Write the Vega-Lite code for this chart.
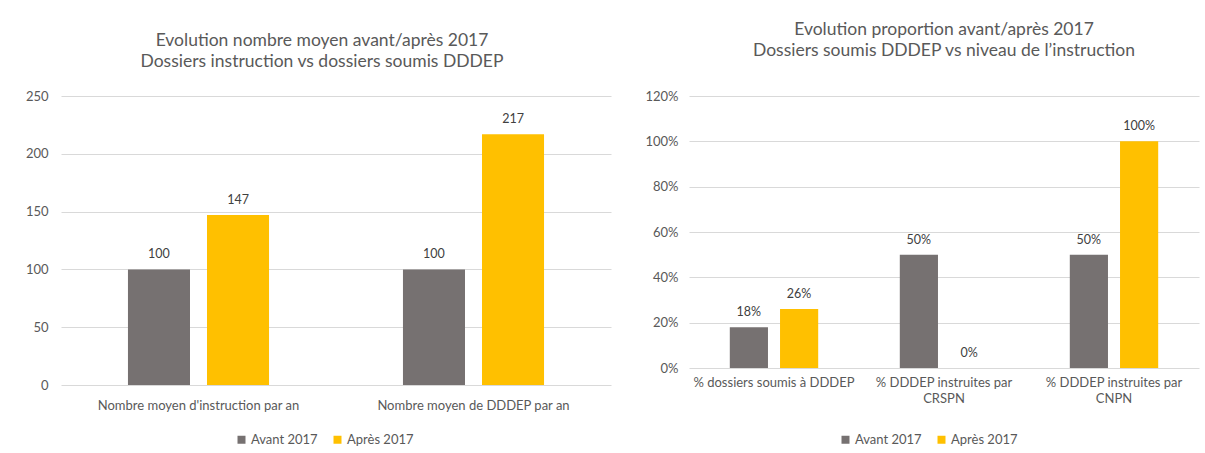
{
  "$schema": "https://vega.github.io/schema/vega-lite/v6.json",
  "background": "white",
  "padding": {"left": 25, "top": 20, "right": 2, "bottom": 5},
  "bounds": "flush",
  "spacing": 78,
  "config": {
    "font": "Lato",
    "view": {"stroke": null},
    "axis": {"labelColor": "#595959", "labelFontSize": 13, "titleColor": "#595959", "domain": false, "ticks": false, "labelLimit": 400},
    "legend": {"labelColor": "#595959", "labelFontSize": 13, "symbolType": "square", "symbolSize": 64, "symbolStrokeWidth": 0, "title": null, "orient": "none", "direction": "horizontal", "columnPadding": 13, "labelOffset": 3},
    "title": {"color": "#595959", "fontSize": 17.5, "fontWeight": "normal", "lineHeight": 21}
  },
  "resolve": {"scale": {"color": "independent", "xOffset": "independent", "x": "independent", "y": "independent"}, "legend": {"color": "independent"}},
  "hconcat": [
    {
      "width": 550,
      "height": 289,
      "title": {"text": ["Evolution nombre moyen avant/après 2017", "Dossiers instruction vs dossiers soumis DDDEP"], "offset": 20, "dx": -14},
      "data": {"values": [
        {"cat": "Nombre moyen d'instruction par an", "periode": "Avant 2017", "valeur": 100},
        {"cat": "Nombre moyen d'instruction par an", "periode": "Après 2017", "valeur": 147},
        {"cat": "Nombre moyen de DDDEP par an", "periode": "Avant 2017", "valeur": 100},
        {"cat": "Nombre moyen de DDDEP par an", "periode": "Après 2017", "valeur": 217}
      ]},
      "encoding": {
        "x": {"field": "cat", "type": "nominal", "sort": null, "title": null, "scale": {"paddingInner": 0.487, "paddingOuter": 0.2435}, "axis": {"labelAngle": 0, "labelPadding": 14, "grid": false}},
        "xOffset": {"field": "periode", "type": "nominal", "sort": ["Avant 2017", "Après 2017"], "scale": {"paddingInner": 0.215}},
        "y": {"field": "valeur", "type": "quantitative", "title": null, "scale": {"domain": [0, 250]}, "axis": {"values": [0, 50, 100, 150, 200, 250], "gridColor": "#d9d9d9", "labelPadding": 13}}
      },
      "layer": [
        {
          "mark": {"type": "bar"},
          "encoding": {
            "color": {"field": "periode", "type": "nominal", "sort": ["Avant 2017", "Après 2017"], "scale": {"domain": ["Avant 2017", "Après 2017"], "range": ["#767171", "#FFC000"]}, "legend": {"legendX": 174, "legendY": 337}}
          }
        },
        {
          "mark": {"type": "text", "dy": -15, "color": "#404040", "fontSize": 12.5},
          "encoding": {"text": {"field": "valeur", "type": "quantitative"}}
        }
      ]
    },
    {
      "width": 510,
      "height": 272,
      "title": {"text": ["Evolution proportion avant/après 2017", "Dossiers soumis DDDEP vs niveau de l’instruction"], "offset": 31},
      "data": {"values": [
        {"cat": "% dossiers soumis à DDDEP", "periode": "Avant 2017", "valeur": 0.18},
        {"cat": "% dossiers soumis à DDDEP", "periode": "Après 2017", "valeur": 0.26},
        {"cat": "% DDDEP instruites par|CRSPN", "periode": "Avant 2017", "valeur": 0.5},
        {"cat": "% DDDEP instruites par|CRSPN", "periode": "Après 2017", "valeur": 0},
        {"cat": "% DDDEP instruites par|CNPN", "periode": "Avant 2017", "valeur": 0.5},
        {"cat": "% DDDEP instruites par|CNPN", "periode": "Après 2017", "valeur": 1.0}
      ]},
      "encoding": {
        "x": {"field": "cat", "type": "nominal", "sort": null, "title": null, "scale": {"paddingInner": 0.48, "paddingOuter": 0.24}, "axis": {"labelAngle": 0, "labelPadding": 8, "grid": false, "labelExpr": "split(datum.label, '|')", "labelLineHeight": 16}},
        "xOffset": {"field": "periode", "type": "nominal", "sort": ["Avant 2017", "Après 2017"], "scale": {"paddingInner": 0.24}},
        "y": {"field": "valeur", "type": "quantitative", "title": null, "scale": {"domain": [0, 1.2]}, "axis": {"values": [0, 0.2, 0.4, 0.6, 0.8, 1.0, 1.2], "format": ".0%", "gridColor": "#d9d9d9", "labelPadding": 11}}
      },
      "layer": [
        {
          "mark": {"type": "bar"},
          "encoding": {
            "color": {"field": "periode", "type": "nominal", "sort": ["Avant 2017", "Après 2017"], "scale": {"domain": ["Avant 2017", "Après 2017"], "range": ["#767171", "#FFC000"]}, "legend": {"legendX": 150, "legendY": 337}}
          }
        },
        {
          "mark": {"type": "text", "dy": -15, "color": "#404040", "fontSize": 12.5},
          "encoding": {"text": {"field": "valeur", "type": "quantitative", "format": ".0%"}}
        }
      ]
    }
  ]
}
